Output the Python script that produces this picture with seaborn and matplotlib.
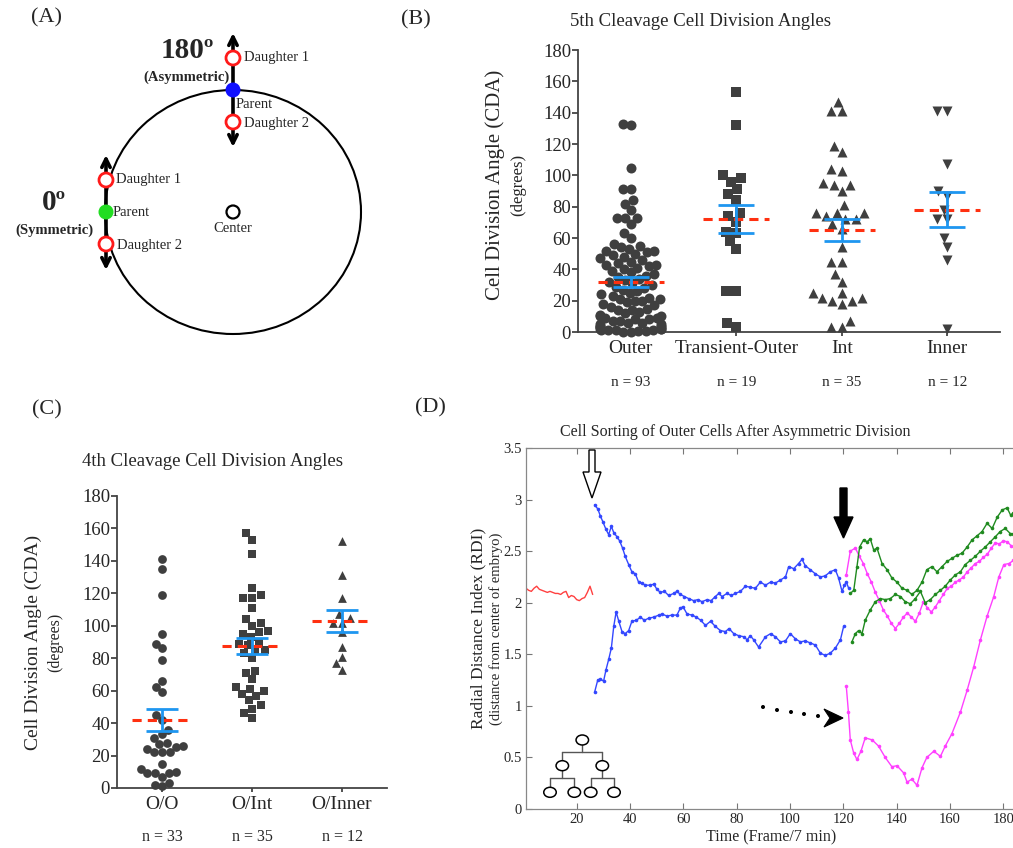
import warnings
import numpy as np
import pandas as pd
import matplotlib
matplotlib.use("Agg")
import matplotlib.pyplot as plt
import seaborn as sns
from matplotlib.patches import Circle, Ellipse, Polygon
from matplotlib.ticker import FuncFormatter

warnings.filterwarnings("ignore")

# ---------------- data ----------------
# (B) 5th cleavage cell division angles (degrees)
cats_5th = ["Outer", "Transient-Outer", "Int", "Inner"]
outer_5th = [133, 132, 105, 91, 91, 84, 82, 78, 73, 73, 73, 69, 63, 60,
             56, 55, 54, 53, 52, 52, 51, 50, 49, 48, 47, 46, 45, 44, 43, 43,
             42, 41, 40, 39, 38, 37, 36, 35, 34, 33, 32, 31, 30, 29, 28, 27,
             26, 25, 24, 23, 22, 21, 21, 20, 20, 19, 18, 17, 16, 15, 14, 14,
             13, 12, 11, 10, 10, 9, 9, 8, 8, 7, 7, 6, 6, 5, 5, 4, 4,
             3, 3, 3, 2, 2, 2, 1, 1, 1, 1, 0.5, 0.5, 0.3, 0.2]
trans_5th = [153, 132, 100, 96, 98, 91, 88, 84, 76, 74, 70, 64, 63, 58, 53,
             26, 26, 6, 3]
int_5th = [147, 141, 141, 119, 115, 104, 103, 95, 94, 94, 90, 81, 76, 76, 76,
           74, 72, 72, 69, 66, 54, 45, 45, 37, 32, 25, 25, 22, 22, 20, 20, 18,
           7, 3, 3]
inner_5th = [141, 141, 107, 90, 87, 78, 72, 72, 60, 54, 46, 2]
mean_5th = [32, 72, 65, 78]
sem_5th = [3, 8.8, 6.9, 11.2]

# (C) 4th cleavage cell division angles (degrees)
cats_4th = ["O/O", "O/Int", "O/Inner"]
oo_4th = [141, 135, 119, 95, 89, 86, 79, 66, 62, 59, 45, 42, 36, 33, 31, 27,
          25, 26, 28, 22, 22, 22, 24, 15, 12, 9, 9, 10, 7, 9, 3, 1, 2]
oint_4th = [157, 153, 144, 123, 119, 117, 117, 111, 104, 102, 100, 96, 97, 95,
            89, 90, 85, 83, 85, 72, 71, 67, 61, 60, 62, 58, 57, 54, 51, 49, 46,
            43, 93, 88, 80]
oinner_4th = [152, 131, 117, 107, 105, 102, 102, 96, 87, 81, 77, 73]
mean_4th = [42, 87.5, 103]
sem_4th = [6.9, 5.2, 6.7]

# (D) radial distance index over time (frame)
red_t = [1, 2, 3, 4, 5, 6, 7, 8, 9, 10, 11, 12, 13, 14, 15, 16, 17, 18, 19,
         20, 21, 22, 23, 24, 25, 26]
red_v = [2.14, 2.12, 2.11, 2.14, 2.16, 2.13, 2.12, 2.11, 2.10, 2.11, 2.10,
         2.09, 2.09, 2.08, 2.10, 2.11, 2.05, 2.07, 2.06, 2.03, 2.02, 2.04,
         2.05, 2.10, 2.16, 2.08]
blue_up_t = [26.7, 27.9, 28.9, 29.9, 31, 32, 33, 33.9, 35.1, 36.1, 37.2, 38.2,
             39.5, 40.7, 42, 43.2, 44.5, 45.7, 47.6, 48.9, 50.1, 51.4, 52.9,
             54.5, 56.4, 57.6, 58.9, 60.4, 62, 63.9, 65.4, 67, 68.9, 70.4, 72,
             73.3, 74.5, 76.4, 77.9, 79.5, 81.4, 83.3, 85.1, 87, 88.9, 90.8,
             92.7, 94.5, 96.4, 98.3, 99.5, 101.4, 103.2, 104.5, 105.7, 107.6,
             109.5, 111.4, 113.2, 115.1, 117, 118.2, 119.5, 120.4, 121.1, 122]
blue_up_v = [2.95, 2.91, 2.84, 2.78, 2.71, 2.66, 2.74, 2.68, 2.64, 2.60, 2.53,
             2.45, 2.37, 2.30, 2.28, 2.20, 2.19, 2.17, 2.17, 2.18, 2.13, 2.10,
             2.11, 2.07, 2.09, 2.11, 2.08, 2.06, 2.04, 2.02, 2.03, 2.01, 2.03,
             2.02, 2.06, 2.09, 2.06, 2.09, 2.07, 2.09, 2.11, 2.16, 2.15, 2.14,
             2.20, 2.17, 2.20, 2.19, 2.22, 2.25, 2.35, 2.33, 2.38, 2.42, 2.36,
             2.32, 2.28, 2.25, 2.26, 2.30, 2.32, 2.24, 2.11, 2.17, 2.20, 2.14]
blue_lo_t = [26.7, 27.9, 28.9, 30.1, 31, 32, 33, 33.9, 34.8, 35.8, 37, 38.2,
             39.5, 40.7, 42.4, 43.9, 45.4, 47, 48.9, 50.8, 52, 53.9, 55.7, 57.6,
             58.9, 59.9, 61.4, 63.3, 64.9, 66.5, 68.3, 70.2, 72, 73.9, 75.8,
             77.1, 78.9, 80.8, 82.7, 83.9, 85.1, 86.4, 88.2, 90.8, 92.7, 94.5,
             96.4, 98.3, 100.1, 102, 103.9, 105.7, 107.6, 109.5, 111.4, 113.2,
             115.1, 117, 118.9, 120.1]
blue_lo_v = [1.13, 1.25, 1.26, 1.24, 1.35, 1.45, 1.56, 1.77, 1.91, 1.82, 1.72,
             1.70, 1.73, 1.82, 1.83, 1.86, 1.83, 1.85, 1.86, 1.88, 1.89, 1.87,
             1.88, 1.88, 1.95, 1.96, 1.89, 1.88, 1.86, 1.83, 1.78, 1.82, 1.77,
             1.73, 1.72, 1.75, 1.70, 1.68, 1.67, 1.64, 1.68, 1.64, 1.57, 1.67,
             1.70, 1.67, 1.62, 1.63, 1.70, 1.65, 1.62, 1.63, 1.61, 1.59, 1.51,
             1.49, 1.51, 1.56, 1.64, 1.77]
mag_up_t = [121.1, 122.6, 124.5, 126, 127.5, 129, 130.5, 132, 133.5, 135,
            136.5, 138, 139.5, 141, 142.5, 144, 145.5, 147, 148.5, 150, 151.5,
            153, 154.5, 156, 157.5, 159, 160.5, 162, 163.5, 165, 166.5, 168,
            169.5, 171, 172.5, 174, 175.5, 177, 178.5, 180, 181.5, 183, 184.5]
mag_up_v = [2.27, 2.50, 2.53, 2.45, 2.38, 2.28, 2.20, 2.10, 2.02, 1.93, 1.87,
            1.80, 1.75, 1.80, 1.86, 1.90, 1.86, 1.82, 1.90, 2.01, 1.95, 1.91,
            1.96, 2.02, 2.08, 2.14, 2.16, 2.20, 2.22, 2.25, 2.30, 2.34, 2.38,
            2.40, 2.44, 2.47, 2.53, 2.58, 2.57, 2.60, 2.59, 2.55, 2.52]
mag_lo_t = [121.1, 121.9, 122.6, 123.9, 125.1, 126.6, 128.2, 130.8, 133.2,
            135.7, 138.2, 140.1, 142.6, 143.9, 145.7, 147.6, 149.5, 151.3,
            153.9, 156.4, 158.2, 160.7, 163.9, 166.4, 168.9, 171.4, 173.9,
            176.4, 178.3, 180.2, 182.1, 183.8]
mag_lo_v = [1.19, 0.94, 0.67, 0.54, 0.48, 0.56, 0.69, 0.67, 0.61, 0.50, 0.41,
            0.42, 0.35, 0.26, 0.29, 0.23, 0.40, 0.50, 0.56, 0.51, 0.61, 0.73,
            0.94, 1.15, 1.38, 1.64, 1.87, 2.06, 2.25, 2.37, 2.38, 2.41]
green_up_t = [122.6, 123.9, 125.1, 126.1, 127.6, 128.9, 130.1, 131.4, 132.6,
              134.5, 136.4, 138.2, 140.1, 142, 143.9, 145.7, 147.6, 149.5,
              151.3, 153.2, 155.1, 157, 158.9, 160.7, 162.6, 164.5, 166.4,
              168.3, 170.2, 172, 173.9, 175.8, 177.7, 179.6, 181.4, 182.7,
              183.8]
green_up_v = [2.09, 2.12, 2.35, 2.54, 2.61, 2.59, 2.62, 2.51, 2.53, 2.38, 2.32,
              2.24, 2.20, 2.14, 2.12, 2.08, 2.12, 2.20, 2.32, 2.35, 2.30, 2.35,
              2.40, 2.43, 2.46, 2.48, 2.54, 2.61, 2.65, 2.69, 2.77, 2.72, 2.83,
              2.90, 2.92, 2.85, 2.87]
green_lo_t = [123.2, 124.5, 125.7, 127, 128.2, 130.1, 132, 133.9, 135.7, 137.6,
              139.5, 141.4, 143.2, 145.1, 147, 148.9, 150.7, 152.6, 154.5,
              156.4, 158.2, 160.1, 162, 163.9, 165.7, 167.6, 169.5, 171.4,
              173.2, 175.1, 177, 178.8, 180.7, 182.6, 183.8]
green_lo_v = [1.62, 1.70, 1.73, 1.70, 1.83, 1.93, 2.01, 2.04, 2.03, 2.04, 2.08,
              2.06, 2.01, 1.99, 2.04, 2.11, 2.00, 2.03, 2.08, 2.12, 2.16, 2.22,
              2.27, 2.30, 2.37, 2.41, 2.45, 2.50, 2.54, 2.59, 2.64, 2.69, 2.72,
              2.67, 2.67]

DOT = "#3f3f3f"
BLUE_ERR = "#1e96f0"
RED_MEAN = "#ff3010"
SPINE = "#444444"

sns.set_style("ticks")
plt.rcParams["font.family"] = ["Liberation Serif", "DejaVu Serif"]

W, H = 1013, 848
fig = plt.figure(figsize=(W / 100, H / 100), dpi=100)


def px_axes(left, top, right, bottom):
    return fig.add_axes([left / W, 1 - bottom / H, (right - left) / W, (bottom - top) / H])


def scatter_panel(ax, cats, groups, markers, size, means, sems, cap, half):
    colls = []
    for vals, cat, mk in zip(groups, cats, markers):
        n_before = len(ax.collections)
        df = pd.DataFrame({"group": pd.Categorical([cat] * len(vals), categories=cats),
                           "value": vals})
        sns.swarmplot(data=df, x="group", y="value", order=cats, marker=mk, size=size,
                      color=DOT, linewidth=0, ax=ax, clip_on=False, zorder=3)
        new = ax.collections[n_before:]
        colls.append(max(new, key=lambda c: len(c.get_offsets())))
    pos = np.arange(len(cats))
    ax.hlines(means, pos - half, pos + half, colors=RED_MEAN, linestyles=(0, (3, 2)),
              lw=2.2, zorder=5)
    ax.errorbar(pos, means, yerr=sems, fmt="none", ecolor=BLUE_ERR, elinewidth=2,
                capsize=cap, capthick=2, zorder=6)
    ax.set_xlim(-0.5, len(cats) - 0.5)
    ax.set_ylim(0, 180)
    ax.set_yticks(range(0, 181, 20))
    ax.set_xlabel("")
    ax.set_ylabel("")
    sns.despine(ax=ax)
    for s in ("left", "bottom"):
        ax.spines[s].set_color(SPINE)
        ax.spines[s].set_linewidth(1.3)
    ax.tick_params(axis="y", length=4, width=1.3, color=SPINE, pad=1, labelsize=13.5)
    ax.tick_params(axis="x", length=3, width=1.3, color=SPINE, pad=3, labelsize=14)
    ax.patch.set_alpha(0)
    return colls


# ---------------- (B) ----------------
axB = px_axes(578, 50, 1000, 332)
groups_5th = [outer_5th, trans_5th, int_5th, inner_5th]
colls_B = scatter_panel(axB, cats_5th, groups_5th, ["o", "s", "^", "v"], 7.2,
                        mean_5th, sem_5th, 13, 0.315)
for i, g in enumerate(groups_5th):
    axB.text(i, -0.18, f"n = {len(g)}", transform=axB.get_xaxis_transform(),
             ha="center", va="center", fontsize=11)
axB.text(-0.197, 0.52, "Cell Division Angle (CDA)", transform=axB.transAxes,
         rotation=90, ha="center", va="center", fontsize=15)
axB.text(-0.142, 0.52, "(degrees)", transform=axB.transAxes,
         rotation=90, ha="center", va="center", fontsize=12)

# ---------------- (C) ----------------
axC = px_axes(117, 496, 387, 788)
groups_4th = [oo_4th, oint_4th, oinner_4th]
colls_C = scatter_panel(axC, cats_4th, groups_4th, ["o", "s", "^"], 6.3,
                        mean_4th, sem_4th, 11.5, 0.33)
for i, g in enumerate(groups_4th):
    axC.text(i, -0.168, f"n = {len(g)}", transform=axC.get_xaxis_transform(),
             ha="center", va="center", fontsize=11.5)
axC.text(-0.311, 0.5, "Cell Division Angle (CDA)", transform=axC.transAxes,
         rotation=90, ha="center", va="center", fontsize=14)
axC.text(-0.23, 0.5, "(degrees)", transform=axC.transAxes,
         rotation=90, ha="center", va="center", fontsize=11.5)

# ---------------- (D) ----------------
axD = px_axes(526, 448, 1016.7, 809)
series = [
    (red_t, red_v, "#ff4040", None),
    (blue_up_t, blue_up_v, "#3347ff", "o"),
    (blue_lo_t, blue_lo_v, "#3347ff", "o"),
    (mag_up_t, mag_up_v, "#ff40ff", "o"),
    (mag_lo_t, mag_lo_v, "#ff40ff", "o"),
    (green_up_t, green_up_v, "#1f8a1f", "o"),
    (green_lo_t, green_lo_v, "#1f8a1f", "o"),
]
for t, v, c, mk in series:
    kw = dict(marker=mk, markersize=2.6, markeredgewidth=0) if mk else {}
    sns.lineplot(x=t, y=v, ax=axD, color=c, lw=1.0, sort=False, estimator=None, **kw)
axD.set_xlim(1, 185)
axD.set_ylim(0, 3.5)
axD.set_xticks(range(20, 181, 20))
axD.set_yticks(np.arange(0, 3.51, 0.5))
axD.yaxis.set_major_formatter(FuncFormatter(lambda v, p: f"{v:g}"))
axD.tick_params(direction="in", length=4, width=0.8, color="#777777", labelsize=10.5,
                top=True, pad=3)
for s in ("left", "bottom", "top"):
    axD.spines[s].set_color("#888888")
    axD.spines[s].set_linewidth(0.9)
axD.spines["top"].set_linestyle((0, (1, 1)))
axD.spines["right"].set_visible(False)
axD.set_xlabel("Time (Frame/7 min)", fontsize=11.5, labelpad=2)
axD.set_ylabel("")
axD.text(-0.098, 0.5, "Radial Distance Index (RDI)", transform=axD.transAxes,
         rotation=90, ha="center", va="center", fontsize=12.5)
axD.text(-0.062, 0.5, "(distance from center of embryo)", transform=axD.transAxes,
         rotation=90, ha="center", va="center", fontsize=10.5)

# ---------------- overlay in pixel coordinates ----------------
ov = fig.add_axes([0, 0, 1, 1], zorder=10)
ov.set_xlim(0, W)
ov.set_ylim(H, 0)
ov.axis("off")
ov.patch.set_alpha(0)

# panel letters and titles
for lab, x, y in [("(A)", 46, 18), ("(B)", 416, 20), ("(C)", 47, 410), ("(D)", 430, 408)]:
    ov.text(x, y, lab, ha="center", va="center", fontsize=16)
ov.text(700, 22, "5th Cleavage Cell Division Angles", ha="center", va="center", fontsize=13.5)
ov.text(212, 462, "4th Cleavage Cell Division Angles", ha="center", va="center", fontsize=13.5)
ov.text(735, 432, "Cell Sorting of Outer Cells After Asymmetric Division",
        ha="center", va="center", fontsize=11.5)

# (A) schematic
ov.add_patch(Ellipse((233, 212), 256, 244, fill=False, lw=1.5, ec="black", zorder=1))
arrow_kw = dict(arrowstyle="<->,head_length=0.6,head_width=0.3", lw=2.6, color="black",
                shrinkA=0, shrinkB=0)
ov.annotate("", xy=(233, 33), xytext=(233, 147), arrowprops=arrow_kw, zorder=2)
ov.annotate("", xy=(106, 155), xytext=(106, 270), arrowprops=arrow_kw, zorder=2)
for cx, cy in [(233, 58), (233, 122), (106, 180), (106, 244)]:
    ov.add_patch(Circle((cx, cy), 7, fc="white", ec="#ff1a1a", lw=2, zorder=3))
ov.add_patch(Circle((233, 90), 7.5, fc="#1010ff", ec="none", zorder=3))
ov.add_patch(Circle((106, 212), 7.5, fc="#22dd22", ec="none", zorder=3))
ov.add_patch(Circle((233, 212), 6.5, fc="white", ec="black", lw=1.6, zorder=3))
txt = dict(fontsize=10.5, va="center", ha="left")
ov.text(244, 58, "Daughter 1", **txt)
ov.text(236, 105, "Parent", **txt)
ov.text(244, 123, "Daughter 2", **txt)
ov.text(116, 180, "Daughter 1", **txt)
ov.text(113, 212, "Parent", **txt)
ov.text(117, 245, "Daughter 2", **txt)
ov.text(233, 228, "Center", fontsize=10.5, ha="center", va="center")
ov.text(187, 50, "180º", fontsize=21, fontweight="bold", ha="center", va="center")
ov.text(186, 77, "(Asymmetric)", fontsize=10.5, fontweight="bold", ha="center", va="center")
ov.text(54, 202, "0º", fontsize=21, fontweight="bold", ha="center", va="center")
ov.text(54, 230, "(Symmetric)", fontsize=10.5, fontweight="bold", ha="center", va="center")

# (D) arrows
ov.add_patch(Polygon([(589, 450), (595, 450), (595, 472), (601, 472), (592, 498),
                      (583, 472), (589, 472)], closed=True, fc="white", ec="black", lw=1))
ov.add_patch(Polygon([(840, 488), (847, 488), (847, 517), (853, 517), (843.5, 538),
                      (834, 517), (840, 517)], closed=True, fc="black", ec="black", lw=1))
for dx, dy in [(763, 707), (777, 710), (791, 712), (804, 714), (818, 716)]:
    ov.add_patch(Circle((dx, dy), 2, fc="black", ec="none"))
ov.add_patch(Polygon([(843, 718), (824, 709), (830, 718), (824, 727)], closed=True,
                     fc="black", ec="black", lw=0.8))

# (D) lineage tree icon
tree_c = "#555555"
ov.plot([582.3, 582.3], [745, 752], color=tree_c, lw=1)
ov.plot([562.3, 602.3], [752, 752], color=tree_c, lw=1)
for x in (562.3, 602.3):
    ov.plot([x, x], [752, 761], color=tree_c, lw=1)
    ov.plot([x, x], [770.5, 778.3], color=tree_c, lw=1)
ov.plot([550, 574.3], [778.3, 778.3], color=tree_c, lw=1)
ov.plot([590.7, 614], [778.3, 778.3], color=tree_c, lw=1)
for x in (550, 574.3, 590.7, 614):
    ov.plot([x, x], [778.3, 787.5], color=tree_c, lw=1)
for x, y in [(582.3, 740), (562.3, 765.7), (602.3, 765.7), (550, 792.3),
             (574.3, 792.3), (590.7, 792.3), (614, 792.3)]:
    ov.add_patch(Ellipse((x, y), 12.5, 10, fc="white", ec="black", lw=1.1, zorder=3))

# the dense columns are packed tighter than a strict swarm allows:
# let seaborn lay out the swarm once, then squeeze it toward the centre
fig.canvas.draw()
for coll, centre, factor in [(colls_B[0], 0, 0.72), (colls_C[0], 0, 0.82)]:
    xy = np.asarray(coll.get_offsets()).copy()
    xy[:, 0] = centre + (xy[:, 0] - centre) * factor
    if "draw" in coll.__dict__:
        del coll.draw
    coll.set_offsets(xy)

fig.savefig("out.png", dpi=100)
